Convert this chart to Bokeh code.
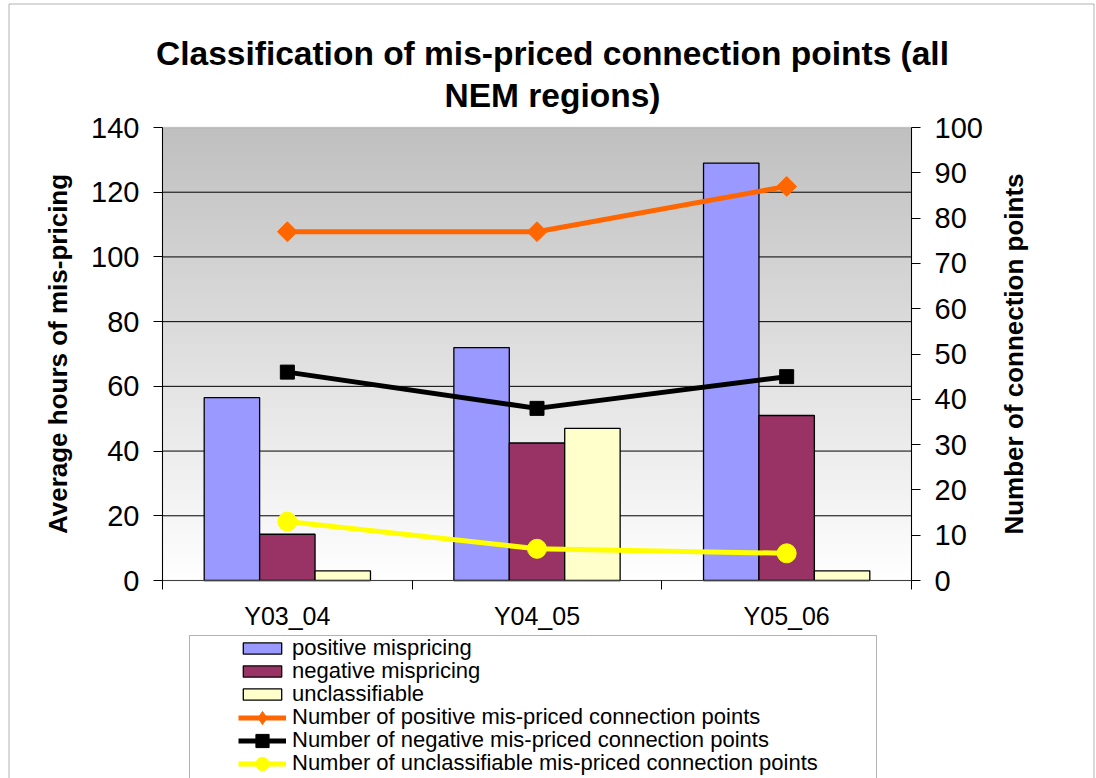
import numpy as np
from bokeh.plotting import figure
from bokeh.models import (ColumnDataSource, Range1d, LinearAxis, FixedTicker, Legend,
                          LegendItem, Label, BoxAnnotation)
from bokeh.embed import file_html
from bokeh.resources import INLINE

# ---------------- data ----------------
categories = ["Y03_04", "Y04_05", "Y05_06"]
positive_hours = [56.5, 72.0, 129.0]
negative_hours = [14.3, 42.5, 51.0]
unclass_hours = [3.0, 47.0, 3.0]
positive_points = [77, 77, 87]
negative_points = [46, 38, 45]
unclass_points = [13, 7, 6]
left_ticks = [0, 20, 40, 60, 80, 100, 120, 140]
right_ticks = [0, 10, 20, 30, 40, 50, 60, 70, 80, 90, 100]

FONT = "Liberation Sans"
W, H = 1096, 778
# plot-area placement on the canvas (pixels)
PL, PR, PT, PB = 162, 911, 127, 580

n = len(categories)
centers = [i + 0.5 for i in range(n)]
bw = 0.222

# ranges chosen so the plot area lands at the pixel box above while the frame fills the canvas
xs = n / (PR - PL)
x_start, x_end = -PL * xs, n + (W - PR) * xs
ly0, ly1 = left_ticks[0], left_ticks[-1]
ls = (ly1 - ly0) / (PB - PT)
ry0, ry1 = right_ticks[0], right_ticks[-1]
rs = (ry1 - ry0) / (PB - PT)

p = figure(width=W, height=H, output_backend="svg", toolbar_location=None,
           x_range=Range1d(x_start, x_end),
           y_range=Range1d(ly0 - (H - PB) * ls, ly1 + PT * ls),
           min_border=0, background_fill_color="white", border_fill_color="white")
p.extra_y_ranges = {"right": Range1d(ry0 - (H - PB) * rs, ry1 + PT * rs)}
p.outline_line_color = None
p.title.text = ""
p.title.visible = False
p.xgrid.visible = False
p.ygrid.visible = False

# gradient background of the plot area
N = 256
img = np.zeros((N, 1), dtype=np.uint32)
view = img.view(dtype=np.uint8).reshape((N, 1, 4))
g = np.linspace(255, 192, N).astype(np.uint8)
view[:, 0, 0] = g
view[:, 0, 1] = g
view[:, 0, 2] = g
view[:, 0, 3] = 255
p.image_rgba(image=[img], x=0, y=ly0, dw=n, dh=ly1 - ly0, level="image")

# gridlines
p.segment(x0=0, x1=n, y0=left_ticks[1:-1], y1=left_ticks[1:-1], line_color="#000000", line_width=1)
p.add_layout(BoxAnnotation(left=0, right=n, bottom=ly0, top=ly1, fill_alpha=0,
                           line_color="#808080", line_width=1.5, level="underlay"))

src = ColumnDataSource(dict(
    xc=centers, pos=positive_hours, neg=negative_hours, unc=unclass_hours,
    pp=positive_points, npnt=negative_points, up=unclass_points,
    xp=[c - bw for c in centers], xn=centers, xu=[c + bw for c in centers],
))

r_pos = p.vbar(x="xp", top="pos", width=bw, source=src, fill_color="#9999FF", line_color="black", line_width=1.3)
r_neg = p.vbar(x="xn", top="neg", width=bw, source=src, fill_color="#993366", line_color="black", line_width=1.3)
r_unc = p.vbar(x="xu", top="unc", width=bw, source=src, fill_color="#FFFFCC", line_color="black", line_width=1.3)

l_pos = p.line(x="xc", y="pp", source=src, y_range_name="right", line_color="#FF6600", line_width=5)
m_pos = p.scatter(x="xc", y="pp", source=src, y_range_name="right", marker="square", angle=np.pi / 4,
                  size=14, fill_color="#FF6600", line_color="#FF6600")
l_neg = p.line(x="xc", y="npnt", source=src, y_range_name="right", line_color="black", line_width=5)
m_neg = p.scatter(x="xc", y="npnt", source=src, y_range_name="right", marker="square",
                  size=14, fill_color="black", line_color="black")
l_unc = p.line(x="xc", y="up", source=src, y_range_name="right", line_color="#FFFF00", line_width=5)
m_unc = p.scatter(x="xc", y="up", source=src, y_range_name="right", marker="circle",
                  size=19, fill_color="#FFFF00", line_color="#FFFF00")
# legend-only diamond (not drawn in the plot)
d_pos = p.scatter(x=[np.nan], y=[np.nan], marker="diamond", size=14, fill_color="#FF6600", line_color="#FF6600")

# axes (pinned to the plot-area edges)
yax = p.yaxis[0]
yax.ticker = FixedTicker(ticks=left_ticks)
yax.axis_label = "Average hours of mis-pricing"
yax.fixed_location = 0
yax.bounds = (ly0, ly1)
rax = LinearAxis(y_range_name="right", ticker=FixedTicker(ticks=right_ticks),
                 fixed_location=n, bounds=(ry0, ry1))
p.add_layout(rax, "right")
for ax in (yax, rax):
    ax.axis_line_color = "black"
    ax.major_tick_out = 9
    ax.major_tick_in = 0
    ax.minor_tick_out = 0
    ax.minor_tick_in = 0
    ax.major_tick_line_color = "black"
    ax.major_label_text_font = FONT
    ax.major_label_text_font_size = "29px"
    ax.major_label_text_color = "black"
    ax.major_label_standoff = 14
    ax.axis_label_text_font = FONT
    ax.axis_label_text_font_size = "26px"
    ax.axis_label_text_font_style = "bold"
    ax.axis_label_text_color = "black"
    ax.axis_label_standoff = 15

# right axis title, reading bottom-to-top as in the original
p.add_layout(Label(x=1013, y=H - (PT + PB) / 2, x_units="screen", y_units="screen",
                   text="Number of connection points", angle=np.pi / 2,
                   text_font=FONT, text_font_size="26px", text_font_style="bold",
                   text_align="center", text_baseline="middle", text_color="black"))

xax = p.xaxis[0]
xax.fixed_location = ly0
xax.bounds = (0, n)
xax.ticker = FixedTicker(ticks=centers, minor_ticks=list(range(n + 1)))
xax.major_label_overrides = {c: lab for c, lab in zip(centers, categories)}
xax.major_tick_out = 0
xax.major_tick_in = 0
xax.minor_tick_out = 9
xax.minor_tick_in = 0
xax.minor_tick_line_color = "black"
xax.axis_line_color = "#404040"
xax.major_label_text_font = FONT
xax.major_label_text_font_size = "25px"
xax.major_label_text_color = "black"
xax.major_label_standoff = 12

# title (two lines)
for txt, ty in (("Classification of mis-priced connection points (all", 53),
                ("NEM regions)", 95)):
    p.add_layout(Label(x=552, y=H - ty, x_units="screen", y_units="screen", text=txt,
                       text_font=FONT, text_font_size="33.5px", text_font_style="bold",
                       text_align="center", text_baseline="middle", text_color="black"))

# legend: one row per Legend so every row sits at its own line
LEG_X = 238
legend_rows = [("positive mispricing", [r_pos], 648, 14, 30),
               ("negative mispricing", [r_neg], 671, 14, 30),
               ("unclassifiable", [r_unc], 694, 14, 30),
               ("Number of positive mis-priced connection points", [l_pos, d_pos], 717, 33, 23),
               ("Number of negative mis-priced connection points", [l_neg, m_neg], 740, 33, 23),
               ("Number of unclassifiable mis-priced connection points", [l_unc, m_unc], 763, 33, 23)]
for lab, rends, cy, gh, lh in legend_rows:
    hh = max(gh, lh)
    lg = Legend(items=[LegendItem(label=lab, renderers=rends)],
                location=(LEG_X, H - (cy + hh / 2)), padding=0, spacing=0, glyph_width=48, glyph_height=gh,
                label_height=lh, label_standoff=6, label_text_font=FONT, label_text_font_size="22px",
                label_text_color="black",
                border_line_color=None, background_fill_alpha=0, margin=0)
    p.add_layout(lg, "center")

# legend box and outer chart border
p.add_layout(BoxAnnotation(left=189, right=876, top=635, bottom=H + 20,
                           left_units="canvas", right_units="canvas", top_units="canvas", bottom_units="canvas",
                           fill_alpha=0, line_color="black", line_width=1, level="overlay"))
p.add_layout(BoxAnnotation(left=8.5, right=1093.5, top=3.5, bottom=H + 20,
                           left_units="canvas", right_units="canvas", top_units="canvas", bottom_units="canvas",
                           fill_alpha=0, line_color="black", line_width=1, level="overlay"))

open("out.html", "w").write(file_html(p, INLINE))
